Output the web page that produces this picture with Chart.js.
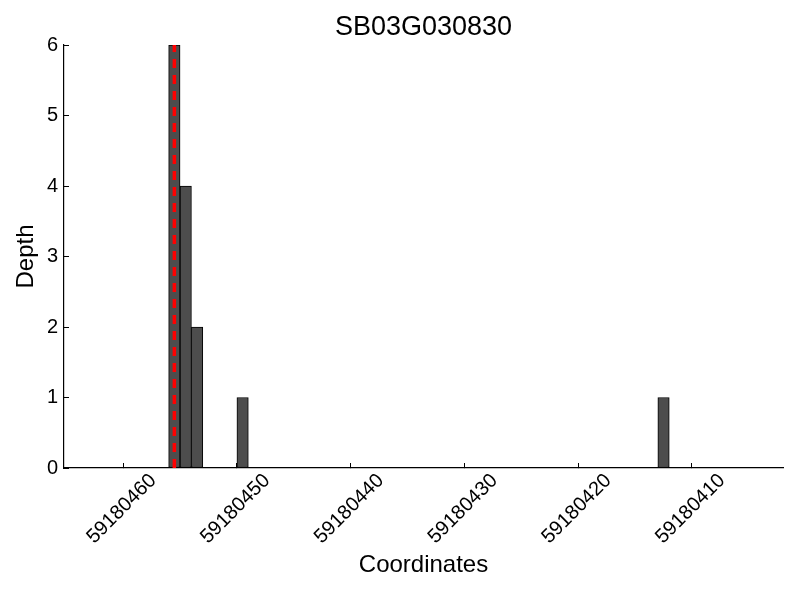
<!doctype html>
<html>
<head>
  <meta charset="utf-8" />
  <title>SB03G030830</title>
  <script src="https://cdn.jsdelivr.net/npm/chart.js@4.4.1/dist/chart.umd.min.js"></script>
  <style>
    *{box-sizing:border-box;margin:0;padding:0}
    html,body{background:#fff}
    #wrap{width:800px;height:600px;position:relative}
  </style>
</head>
<body>
  <div id="wrap"><canvas id="depthChart" width="800" height="600"></canvas></div>

  <script>
    // data (bar centres, depth)
    const positions = [455.5, 454.5, 453.5, 449.5, 412.5];
    const depths    = [6, 4, 2, 1, 1];
    const markerPos = 455.5;   // red dashed line
    const xTicks    = [460, 450, 440, 430, 420, 410];
    const yTicks    = [0, 1, 2, 3, 4, 5, 6];
    const xRange    = [402, 465.2];
    const yRange    = [0, 6];

    const FONT = '"Liberation Sans", Arial, Helvetica, sans-serif';
    Chart.defaults.font.family = FONT;
    Chart.defaults.color = '#000';

    const barData = positions.map((x, i) => ({x: x, y: depths[i]}));
    const lineData = [{x: markerPos, y: yRange[0]}, {x: markerPos, y: yRange[1]}];

    new Chart(document.getElementById('depthChart'), {
      type: 'bar',
      data: {
        datasets: [
          {
            type: 'line',
            data: lineData,
            borderColor: '#ff0000',
            borderWidth: 3.5,
            borderDash: [9, 7],
            pointRadius: 0,
            fill: false,
            order: 0,
            clip: false
          },
          {
            type: 'bar',
            data: barData,
            backgroundColor: '#4d4d4d',
            borderColor: '#000',
            borderWidth: 1,
            borderSkipped: false,
            barThickness: 11.4,
            order: 1
          }
        ]
      },
      options: {
        responsive: false,
        animation: false,
        layout: {padding: {left: 0, right: 17, top: 0, bottom: 0}},
        plugins: {
          legend: {display: false},
          tooltip: {enabled: false},
          title: {
            display: true,
            text: 'SB03G030830',
            fullSize: false,
            color: '#000',
            font: {size: 27, weight: 'normal'},
            padding: {top: 11, bottom: 1.6}
          }
        },
        scales: {
          x: {
            type: 'linear',
            reverse: true,
            offset: false,
            min: xRange[0],
            max: xRange[1],
            afterBuildTicks: s => { s.ticks = xTicks.map(v => ({value: v})); },
            afterFit: s => { s.height = 132; },
            grid: {display: true, drawOnChartArea: false, offset: false, tickLength: -5, color: '#000'},
            border: {display: true, color: '#000', width: 1.2},
            ticks: {
              minRotation: 45, maxRotation: 45,
              labelOffset: 30,
              padding: 6,
              font: {size: 20},
              callback: v => String(59180000 + v)
            },
            title: {
              display: true, text: 'Coordinates',
              font: {size: 24},
              padding: {top: 0, bottom: 20}
            }
          },
          y: {
            min: yRange[0],
            max: yRange[1],
            afterBuildTicks: s => { s.ticks = yTicks.map(v => ({value: v})); },
            afterFit: s => { s.width = 64; },
            grid: {display: true, drawOnChartArea: false, tickLength: -5, color: '#000'},
            border: {display: true, color: '#000', width: 1.2},
            ticks: {font: {size: 20}, padding: 11},
            title: {
              display: true, text: 'Depth',
              font: {size: 24},
              padding: {top: 12, bottom: 0}
            }
          }
        }
      }
    });
  </script>
</body>
</html>
